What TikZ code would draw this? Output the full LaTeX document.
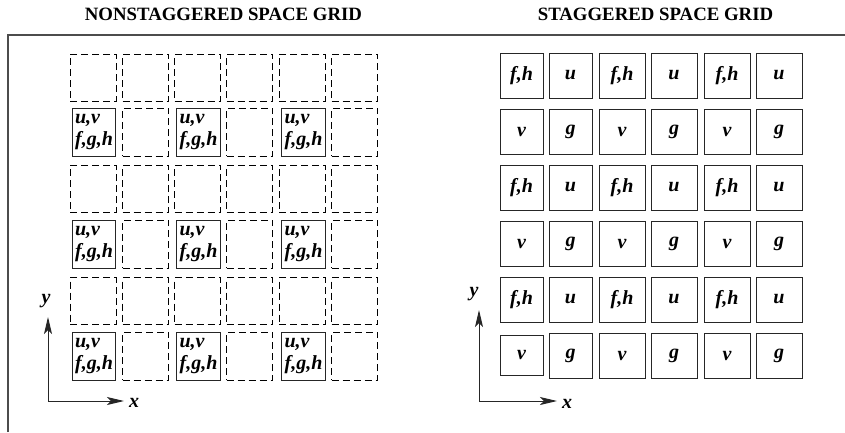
\documentclass[tikz,border=0pt]{standalone}
\usepackage{fontspec}
\setmainfont{Liberation Serif}
\usetikzlibrary{arrows.meta}
\tikzset{
  dashcell/.style={draw=black, line width=0.9pt, dash pattern=on 7pt off 4pt, minimum width=46pt, minimum height=47pt, inner sep=0pt},
  solidcell/.style={draw=black!85, line width=1pt, minimum width=43.5pt, minimum height=48pt, inner sep=0pt, align=left, font=\bfseries\itshape\fontsize{20}{22}\selectfont},
  stagcell/.style={draw=black!85, line width=1pt, minimum height=45pt, inner sep=0pt, font=\bfseries\itshape\fontsize{20}{22}\selectfont},
  titletext/.style={font=\bfseries\fontsize{18.8}{20}\selectfont, inner sep=0pt},
  axislabel/.style={font=\bfseries\itshape\fontsize{20}{22}\selectfont, inner sep=0pt},
  axisline/.style={line width=1pt, draw=black!85, -{Stealth[length=17pt,width=8pt,inset=4pt]}},
  frameline/.style={line width=1.2pt, draw=black!70}
}
\begin{document}
\begin{tikzpicture}[x=1pt,y=-1pt]
\useasboundingbox (0,0) rectangle (845,432);
% titles
\node[titletext] (t1) at (223.5,14) {NONSTAGGERED SPACE GRID};
\node[titletext] (t2) at (655.5,14) {STAGGERED SPACE GRID};
% frame
\draw[frameline] (8,432) -- (8,35) -- (845,35);
% left grid: dashed cells
\foreach \cx [count=\i] in {93,145.5,197.5,249.5,302,354.5}{
  \foreach \cy [count=\j] in {77.5,188.5,301}{
    \node[dashcell] (D\i-\j) at (\cx,\cy) {};
  }
}
\foreach \cx [count=\i] in {145.5,249.5,354.5}{
  \foreach \cy [count=\j] in {132,244,356}{
    \node[dashcell, minimum height=48pt] (E\i-\j) at (\cx,\cy) {};
  }
}
% left grid: solid cells
\foreach \cx [count=\i] in {94,198.5,303.5}{
  \foreach \cy [count=\j] in {132,244,356}{
    \node[solidcell] (S\i-\j) at (\cx,\cy) {u,v\\f,g,h};
  }
}
% right grid
\foreach \cx/\w/\a/\b [count=\i] in {521.5/43/{f,h}/v, 570.5/43/u/g, 622/46/{f,h}/v, 674/46/u/g, 727/46/{f,h}/v, 779/46/u/g}{
  \node[stagcell, minimum width=\w pt] (R\i-1) at (\cx,75.5) {\a};
  \node[stagcell, minimum width=\w pt] (R\i-2) at (\cx,131.5) {\b};
  \node[stagcell, minimum width=\w pt] (R\i-3) at (\cx,187.5) {\a};
  \node[stagcell, minimum width=\w pt] (R\i-4) at (\cx,243.5) {\b};
  \node[stagcell, minimum width=\w pt] (R\i-5) at (\cx,299.5) {\a};
}
\node[stagcell, minimum width=43pt, minimum height=40pt] (R1-6) at (521.5,355) {v};
\foreach \cx/\w/\b [count=\i from 2] in {570.5/43/g, 622/46/v, 674/46/g, 727/46/v, 779/46/g}{
  \node[stagcell, minimum width=\w pt] (R\i-6) at (\cx,355.5) {\b};
}
% axes left
\coordinate (O1) at (48,401);
\coordinate (Y1) at (48,317);
\coordinate (X1) at (124,401);
\draw[axisline] (O1) -- (Y1);
\draw[axisline] (O1) -- (X1);
\node[axislabel] (ly1) at (46,301) {y};
\node[axislabel] (lx1) at (134,402.5) {x};
% axes right
\coordinate (O2) at (479,401);
\coordinate (Y2) at (479,310);
\coordinate (X2) at (557,401);
\draw[axisline] (O2) -- (Y2);
\draw[axisline] (O2) -- (X2);
\node[axislabel] (ly2) at (474,294) {y};
\node[axislabel] (lx2) at (567,404) {x};
\end{tikzpicture}
\end{document}
